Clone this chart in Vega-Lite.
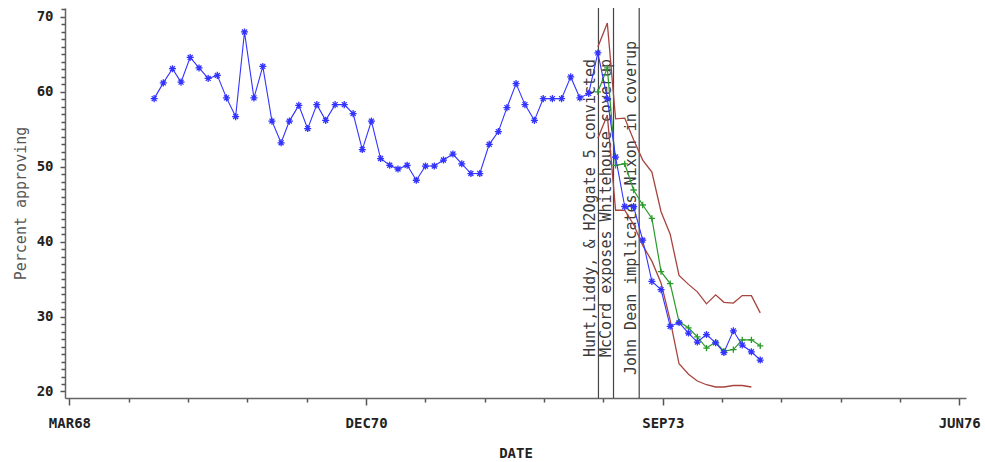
{
  "$schema": "https://vega.github.io/schema/vega-lite/v6.json",
  "width": 901,
  "height": 390,
  "autosize": {"type": "none"},
  "padding": {"left": 65, "top": 8, "right": 19, "bottom": 64},
  "background": "white",
  "config": {
    "view": {"stroke": null},
    "axis": {
      "domainColor": "#666",
      "domainWidth": 1.5,
      "tickColor": "#555",
      "tickWidth": 1.5,
      "grid": false,
      "labelFont": "DejaVu Sans Mono",
      "labelFontWeight": "bold",
      "labelFontSize": 14,
      "labelColor": "#222",
      "labelFlush": false,
      "titleFont": "DejaVu Sans Mono"
    }
  },
  "resolve": {"axis": {"y": "independent"}},
  "datasets": {
    "events": [
      {"date": "1973-01-26", "label": "Hunt,Liddy, & H2Ogate 5 convicted"},
      {"date": "1973-03-18", "label": "McCord exposes Whitehouse coverup"},
      {"date": "1973-06-13", "label": "John Dean implicates Nixon in coverup"}
    ],
    "polls": [
      {"date": "1968-12-13", "series": "Approval", "value": 59.1},
      {"date": "1969-01-13", "series": "Approval", "value": 61.2},
      {"date": "1969-02-13", "series": "Approval", "value": 63.1},
      {"date": "1969-03-14", "series": "Approval", "value": 61.3},
      {"date": "1969-04-14", "series": "Approval", "value": 64.6},
      {"date": "1969-05-14", "series": "Approval", "value": 63.2},
      {"date": "1969-06-14", "series": "Approval", "value": 61.8},
      {"date": "1969-07-15", "series": "Approval", "value": 62.2},
      {"date": "1969-08-15", "series": "Approval", "value": 59.2},
      {"date": "1969-09-15", "series": "Approval", "value": 56.7},
      {"date": "1969-10-15", "series": "Approval", "value": 68.0},
      {"date": "1969-11-16", "series": "Approval", "value": 59.2},
      {"date": "1969-12-16", "series": "Approval", "value": 63.4},
      {"date": "1970-01-16", "series": "Approval", "value": 56.1},
      {"date": "1970-02-16", "series": "Approval", "value": 53.2},
      {"date": "1970-03-16", "series": "Approval", "value": 56.1},
      {"date": "1970-04-17", "series": "Approval", "value": 58.2},
      {"date": "1970-05-17", "series": "Approval", "value": 55.1},
      {"date": "1970-06-17", "series": "Approval", "value": 58.3},
      {"date": "1970-07-17", "series": "Approval", "value": 56.2},
      {"date": "1970-08-18", "series": "Approval", "value": 58.3},
      {"date": "1970-09-18", "series": "Approval", "value": 58.3},
      {"date": "1970-10-18", "series": "Approval", "value": 57.1},
      {"date": "1970-11-18", "series": "Approval", "value": 52.3},
      {"date": "1970-12-19", "series": "Approval", "value": 56.1},
      {"date": "1971-01-19", "series": "Approval", "value": 51.1},
      {"date": "1971-02-19", "series": "Approval", "value": 50.2},
      {"date": "1971-03-19", "series": "Approval", "value": 49.7},
      {"date": "1971-04-19", "series": "Approval", "value": 50.2},
      {"date": "1971-05-20", "series": "Approval", "value": 48.2},
      {"date": "1971-06-20", "series": "Approval", "value": 50.1},
      {"date": "1971-07-20", "series": "Approval", "value": 50.1},
      {"date": "1971-08-20", "series": "Approval", "value": 50.9},
      {"date": "1971-09-21", "series": "Approval", "value": 51.7},
      {"date": "1971-10-21", "series": "Approval", "value": 50.4},
      {"date": "1971-11-21", "series": "Approval", "value": 49.1},
      {"date": "1971-12-21", "series": "Approval", "value": 49.1},
      {"date": "1972-01-22", "series": "Approval", "value": 53.0},
      {"date": "1972-02-22", "series": "Approval", "value": 54.7},
      {"date": "1972-03-22", "series": "Approval", "value": 57.9},
      {"date": "1972-04-22", "series": "Approval", "value": 61.1},
      {"date": "1972-05-22", "series": "Approval", "value": 58.3},
      {"date": "1972-06-23", "series": "Approval", "value": 56.2},
      {"date": "1972-07-23", "series": "Approval", "value": 59.1},
      {"date": "1972-08-23", "series": "Approval", "value": 59.1},
      {"date": "1972-09-23", "series": "Approval", "value": 59.1},
      {"date": "1972-10-24", "series": "Approval", "value": 62.0},
      {"date": "1972-11-24", "series": "Approval", "value": 59.2},
      {"date": "1972-12-24", "series": "Approval", "value": 59.8},
      {"date": "1973-01-24", "series": "Approval", "value": 65.2},
      {"date": "1973-02-25", "series": "Approval", "value": 59.1},
      {"date": "1973-03-25", "series": "Approval", "value": 51.3},
      {"date": "1973-04-25", "series": "Approval", "value": 44.7},
      {"date": "1973-05-25", "series": "Approval", "value": 44.7},
      {"date": "1973-06-25", "series": "Approval", "value": 40.2},
      {"date": "1973-07-26", "series": "Approval", "value": 34.7},
      {"date": "1973-08-26", "series": "Approval", "value": 33.6},
      {"date": "1973-09-26", "series": "Approval", "value": 28.7},
      {"date": "1973-10-26", "series": "Approval", "value": 29.2},
      {"date": "1973-11-27", "series": "Approval", "value": 27.8},
      {"date": "1973-12-27", "series": "Approval", "value": 26.6},
      {"date": "1974-01-27", "series": "Approval", "value": 27.6},
      {"date": "1974-02-27", "series": "Approval", "value": 26.5},
      {"date": "1974-03-27", "series": "Approval", "value": 25.2},
      {"date": "1974-04-28", "series": "Approval", "value": 28.1},
      {"date": "1974-05-28", "series": "Approval", "value": 26.2},
      {"date": "1974-06-28", "series": "Approval", "value": 25.3},
      {"date": "1974-07-28", "series": "Approval", "value": 24.2},
      {"date": "1973-01-24", "series": "Forecast", "value": 60.0},
      {"date": "1973-02-25", "series": "Forecast", "value": 63.2},
      {"date": "1973-03-25", "series": "Forecast", "value": 50.2},
      {"date": "1973-04-25", "series": "Forecast", "value": 50.4},
      {"date": "1973-05-25", "series": "Forecast", "value": 46.9},
      {"date": "1973-06-25", "series": "Forecast", "value": 44.9},
      {"date": "1973-07-26", "series": "Forecast", "value": 43.1},
      {"date": "1973-08-26", "series": "Forecast", "value": 36.0},
      {"date": "1973-09-26", "series": "Forecast", "value": 34.4},
      {"date": "1973-10-26", "series": "Forecast", "value": 29.3},
      {"date": "1973-11-27", "series": "Forecast", "value": 28.5},
      {"date": "1973-12-27", "series": "Forecast", "value": 27.3},
      {"date": "1974-01-27", "series": "Forecast", "value": 25.8},
      {"date": "1974-02-27", "series": "Forecast", "value": 26.6},
      {"date": "1974-03-27", "series": "Forecast", "value": 25.4},
      {"date": "1974-04-28", "series": "Forecast", "value": 25.6},
      {"date": "1974-05-28", "series": "Forecast", "value": 26.9},
      {"date": "1974-06-28", "series": "Forecast", "value": 26.9},
      {"date": "1974-07-28", "series": "Forecast", "value": 26.1},
      {"date": "1973-01-24", "series": "Upper", "value": 66.0},
      {"date": "1973-02-25", "series": "Upper", "value": 69.2},
      {"date": "1973-03-25", "series": "Upper", "value": 56.4},
      {"date": "1973-04-25", "series": "Upper", "value": 56.5},
      {"date": "1973-05-25", "series": "Upper", "value": 53.6},
      {"date": "1973-06-25", "series": "Upper", "value": 50.9},
      {"date": "1973-07-26", "series": "Upper", "value": 49.3},
      {"date": "1973-08-26", "series": "Upper", "value": 44.0},
      {"date": "1973-09-26", "series": "Upper", "value": 41.0},
      {"date": "1973-10-26", "series": "Upper", "value": 35.5},
      {"date": "1973-11-27", "series": "Upper", "value": 34.3},
      {"date": "1973-12-27", "series": "Upper", "value": 33.3},
      {"date": "1974-01-27", "series": "Upper", "value": 31.7},
      {"date": "1974-02-27", "series": "Upper", "value": 32.9},
      {"date": "1974-03-27", "series": "Upper", "value": 31.9},
      {"date": "1974-04-28", "series": "Upper", "value": 31.8},
      {"date": "1974-05-28", "series": "Upper", "value": 32.8},
      {"date": "1974-06-28", "series": "Upper", "value": 32.8},
      {"date": "1974-07-28", "series": "Upper", "value": 30.5},
      {"date": "1973-01-24", "series": "Lower", "value": 53.8},
      {"date": "1973-02-25", "series": "Lower", "value": 56.9},
      {"date": "1973-03-25", "series": "Lower", "value": 44.2},
      {"date": "1973-04-25", "series": "Lower", "value": 44.2},
      {"date": "1973-05-25", "series": "Lower", "value": 42.3},
      {"date": "1973-06-25", "series": "Lower", "value": 39.5},
      {"date": "1973-07-26", "series": "Lower", "value": 37.4},
      {"date": "1973-08-26", "series": "Lower", "value": 34.5},
      {"date": "1973-09-26", "series": "Lower", "value": 29.5},
      {"date": "1973-10-26", "series": "Lower", "value": 23.7},
      {"date": "1973-11-27", "series": "Lower", "value": 22.3},
      {"date": "1973-12-27", "series": "Lower", "value": 21.4},
      {"date": "1974-01-27", "series": "Lower", "value": 20.9},
      {"date": "1974-02-27", "series": "Lower", "value": 20.6},
      {"date": "1974-03-27", "series": "Lower", "value": 20.6},
      {"date": "1974-04-28", "series": "Lower", "value": 20.8},
      {"date": "1974-05-28", "series": "Lower", "value": 20.8},
      {"date": "1974-06-28", "series": "Lower", "value": 20.6}
    ]
  },
  "layer": [
    {
      "data": {"name": "events"},
      "mark": {"type": "rule", "color": "#444", "strokeWidth": 1.2},
      "encoding": {
        "x": {
          "field": "date",
          "type": "temporal",
          "scale": {
            "type": "utc",
            "domain": [
              {"year": 1968, "month": 2, "date": 15, "utc": true},
              {"year": 1976, "month": 6, "date": 24, "utc": true}
            ]
          },
          "axis": {
            "title": "DATE",
            "titleFontSize": 14,
            "titleFontWeight": "bold",
            "titleColor": "#222",
            "titleX": 450.5,
            "titleY": 55,
            "titleBaseline": "middle",
            "titleAlign": "center",
            "labelOverlap": false,
            "values": [
              {"year": 1968, "month": 3, "date": 1, "utc": true},
              {"year": 1968, "month": 6, "date": 9, "utc": true},
              {"year": 1968, "month": 9, "date": 18, "utc": true},
              {"year": 1968, "month": 12, "date": 27, "utc": true},
              {"year": 1969, "month": 4, "date": 7, "utc": true},
              {"year": 1969, "month": 7, "date": 16, "utc": true},
              {"year": 1969, "month": 10, "date": 25, "utc": true},
              {"year": 1970, "month": 2, "date": 3, "utc": true},
              {"year": 1970, "month": 5, "date": 14, "utc": true},
              {"year": 1970, "month": 8, "date": 22, "utc": true},
              {"year": 1970, "month": 12, "date": 1, "utc": true},
              {"year": 1971, "month": 3, "date": 11, "utc": true},
              {"year": 1971, "month": 6, "date": 20, "utc": true},
              {"year": 1971, "month": 9, "date": 28, "utc": true},
              {"year": 1972, "month": 1, "date": 7, "utc": true},
              {"year": 1972, "month": 4, "date": 16, "utc": true},
              {"year": 1972, "month": 7, "date": 26, "utc": true},
              {"year": 1972, "month": 11, "date": 3, "utc": true},
              {"year": 1973, "month": 2, "date": 12, "utc": true},
              {"year": 1973, "month": 5, "date": 23, "utc": true},
              {"year": 1973, "month": 9, "date": 1, "utc": true},
              {"year": 1973, "month": 12, "date": 10, "utc": true},
              {"year": 1974, "month": 3, "date": 21, "utc": true},
              {"year": 1974, "month": 6, "date": 29, "utc": true},
              {"year": 1974, "month": 10, "date": 8, "utc": true},
              {"year": 1975, "month": 1, "date": 16, "utc": true},
              {"year": 1975, "month": 4, "date": 26, "utc": true},
              {"year": 1975, "month": 8, "date": 5, "utc": true},
              {"year": 1975, "month": 11, "date": 13, "utc": true},
              {"year": 1976, "month": 2, "date": 21, "utc": true},
              {"year": 1976, "month": 6, "date": 1, "utc": true}
            ],
            "labelExpr": "utcdate(datum.value) == 1 ? upper(utcFormat(datum.value, '%b%y')) : ''",
            "tickSize": {"condition": {"test": "utcdate(datum.value) == 1", "value": 7}, "value": 4},
            "labelBaseline": "middle",
            "labelPadding": 18,
            "labelAlign": "center"
          }
        }
      }
    },
    {
      "data": {"name": "events"},
      "mark": {
        "type": "text",
        "angle": 270,
        "align": "center",
        "baseline": "alphabetic",
        "dy": -3,
        "font": "DejaVu Sans Mono",
        "fontSize": 15,
        "color": "#3a3a3a"
      },
      "encoding": {
        "x": {"field": "date", "type": "temporal"},
        "y": {
          "datum": 44.5,
          "type": "quantitative",
          "scale": {"domain": [19.13, 71.2], "nice": false, "zero": false},
          "axis": {
            "orient": "left",
            "title": "Percent approving",
            "titleFontSize": 15,
            "titleFontWeight": "normal",
            "titleColor": "#555",
            "titleAngle": -90,
            "titleX": -45,
            "titleY": 195,
            "titleBaseline": "middle",
            "titleAlign": "center",
            "values": [20, 30, 40, 50, 60, 70],
            "ticks": true,
            "tickSize": 5,
            "labelPadding": 7,
            "labelBaseline": "middle",
            "labelAlign": "right"
          }
        },
        "text": {"field": "label"}
      }
    },
    {
      "data": {"name": "polls"},
      "transform": [{"filter": {"field": "series", "oneOf": ["Upper", "Lower"]}}],
      "mark": {"type": "line", "color": "#a8443e", "strokeWidth": 1.3},
      "encoding": {
        "x": {"field": "date", "type": "temporal"},
        "y": {
          "field": "value",
          "type": "quantitative",
          "axis": {
            "orient": "left",
            "title": null,
            "labels": false,
            "domain": false,
            "ticks": true,
            "values": [21,22,23,24,25,26,27,28,29,31,32,33,34,35,36,37,38,39,41,42,43,44,45,46,47,48,49,51,52,53,54,55,56,57,58,59,61,62,63,64,65,66,67,68,69,71],
            "tickSize": 4
          }
        },
        "detail": {"field": "series"}
      }
    },
    {
      "data": {"name": "polls"},
      "transform": [{"filter": {"field": "series", "equal": "Forecast"}}],
      "mark": {"type": "line", "color": "#2a9a2a", "strokeWidth": 1.2},
      "encoding": {
        "x": {"field": "date", "type": "temporal"},
        "y": {"field": "value", "type": "quantitative", "axis": null}
      }
    },
    {
      "data": {"name": "polls"},
      "transform": [{"filter": {"field": "series", "equal": "Forecast"}}],
      "mark": {"type": "point", "shape": "M-1,0L1,0M0,-1L0,1", "filled": false, "stroke": "#2a9a2a", "strokeWidth": 1.3, "size": 40, "opacity": 1},
      "encoding": {
        "x": {"field": "date", "type": "temporal"},
        "y": {"field": "value", "type": "quantitative", "axis": null}
      }
    },
    {
      "data": {"name": "polls"},
      "transform": [{"filter": {"field": "series", "equal": "Approval"}}],
      "mark": {"type": "line", "color": "#3333ff", "strokeWidth": 1.1},
      "encoding": {
        "x": {"field": "date", "type": "temporal"},
        "y": {"field": "value", "type": "quantitative", "axis": null}
      }
    },
    {
      "data": {"name": "polls"},
      "transform": [{"filter": {"field": "series", "equal": "Approval"}}],
      "mark": {"type": "point", "shape": "M-1,0L1,0M0,-1L0,1M-0.7,-0.7L0.7,0.7M-0.7,0.7L0.7,-0.7", "filled": false, "stroke": "#3333ff", "strokeWidth": 1.3, "size": 50, "opacity": 1},
      "encoding": {
        "x": {"field": "date", "type": "temporal"},
        "y": {"field": "value", "type": "quantitative", "axis": null}
      }
    }
  ]
}
